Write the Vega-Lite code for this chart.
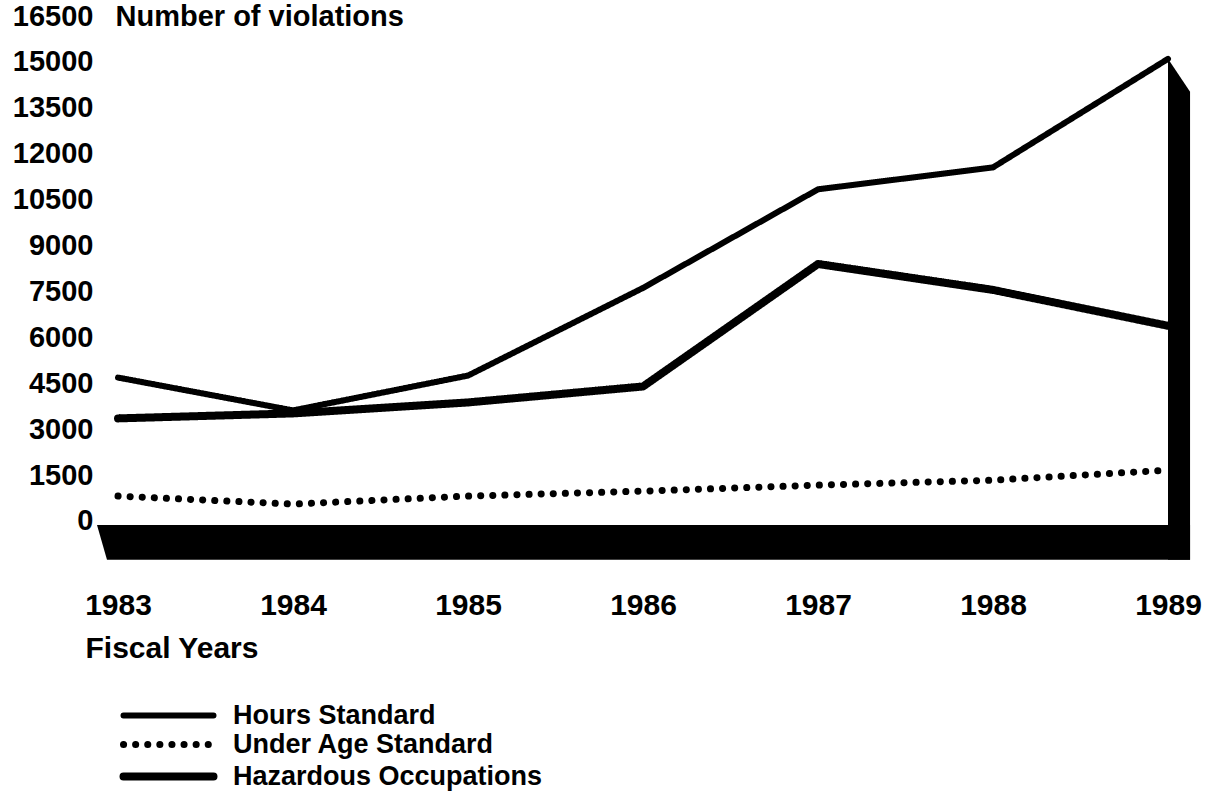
{
  "$schema": "https://vega.github.io/schema/vega-lite/v6.json",
  "width": 1111,
  "height": 798,
  "autosize": "none",
  "padding": {"left": 100, "top": 0, "right": 0, "bottom": 0},
  "background": "white",
  "config": {"view": {"stroke": null}, "font": "Liberation Sans"},
  "datasets": {
    "floor": [
      {"year": 1982.88, "value": -130, "value2": -130},
      {"year": 1982.937, "value": -130, "value2": -1269},
      {"year": 1989.126, "value": -130, "value2": -1269}
    ],
    "wall": [
      {"year": 1989, "value": 15100, "value2": -1269},
      {"year": 1989.126, "value": 14026, "value2": -1269}
    ],
    "violations": [
      {"year": 1983, "series": "Hours Standard", "value": 4686},
      {"year": 1984, "series": "Hours Standard", "value": 3612},
      {"year": 1985, "series": "Hours Standard", "value": 4751},
      {"year": 1986, "series": "Hours Standard", "value": 7615},
      {"year": 1987, "series": "Hours Standard", "value": 10837},
      {"year": 1988, "series": "Hours Standard", "value": 11553},
      {"year": 1989, "series": "Hours Standard", "value": 15100},
      {"year": 1983, "series": "Under Age Standard", "value": 814},
      {"year": 1984, "series": "Under Age Standard", "value": 553},
      {"year": 1985, "series": "Under Age Standard", "value": 814},
      {"year": 1986, "series": "Under Age Standard", "value": 976},
      {"year": 1987, "series": "Under Age Standard", "value": 1172},
      {"year": 1988, "series": "Under Age Standard", "value": 1334},
      {"year": 1989, "series": "Under Age Standard", "value": 1660},
      {"year": 1983, "series": "Hazardous Occupations", "value": 3352},
      {"year": 1984, "series": "Hazardous Occupations", "value": 3515},
      {"year": 1985, "series": "Hazardous Occupations", "value": 3873},
      {"year": 1986, "series": "Hazardous Occupations", "value": 4394},
      {"year": 1987, "series": "Hazardous Occupations", "value": 8397},
      {"year": 1988, "series": "Hazardous Occupations", "value": 7550},
      {"year": 1989, "series": "Hazardous Occupations", "value": 6378}
    ]
  },
  "layer": [
    {
      "data": {"name": "floor"},
      "mark": {"type": "area", "color": "black"},
      "encoding": {
        "x": {
          "field": "year", "type": "quantitative",
          "scale": {"domain": [1982.8971, 1989.2457], "nice": false, "zero": false},
          "axis": {
            "values": [1983, 1984, 1985, 1986, 1987, 1988, 1989],
            "format": "d", "orient": "bottom", "offset": -208,
            "domain": false, "ticks": false, "grid": false,
            "labelPadding": 0, "labelFlush": false, "labelOverlap": false,
            "labelFont": "Liberation Sans", "labelFontSize": 30, "labelFontWeight": "bold", "labelColor": "black",
            "title": "Fiscal Years", "titleX": -15, "titleY": 58, "titleAlign": "left", "titleBaseline": "middle",
            "titleFont": "Liberation Sans", "titleFontSize": 30, "titleFontWeight": "bold", "titleColor": "black"
          }
        },
        "y": {
          "field": "value", "type": "quantitative",
          "scale": {"domain": [-9051, 17023], "nice": false, "zero": false},
          "axis": {
            "values": [0, 1500, 3000, 4500, 6000, 7500, 9000, 10500, 12000, 13500, 15000, 16500],
            "format": "d", "domain": false, "ticks": false, "grid": false,
            "labelPadding": 7, "labelOverlap": false, "labelFlush": false,
            "labelFont": "Liberation Sans", "labelFontSize": 29, "labelFontWeight": "bold", "labelColor": "black",
            "title": "Number of violations", "titleAngle": 0, "titleX": 15, "titleY": 16, "titleAlign": "left", "titleBaseline": "middle",
            "titleFont": "Liberation Sans", "titleFontSize": 29, "titleFontWeight": "bold", "titleColor": "black"
          }
        },
        "y2": {"field": "value2"}
      }
    },
    {
      "data": {"name": "wall"},
      "mark": {"type": "area", "color": "black"},
      "encoding": {
        "x": {"field": "year", "type": "quantitative"},
        "y": {"field": "value", "type": "quantitative"},
        "y2": {"field": "value2"}
      }
    },
    {
      "data": {"name": "violations"},
      "mark": {"type": "line", "color": "black", "strokeCap": "round", "strokeJoin": "round"},
      "encoding": {
        "x": {"field": "year", "type": "quantitative"},
        "y": {"field": "value", "type": "quantitative"},
        "detail": {"field": "series"},
        "strokeDash": {
          "field": "series", "type": "nominal",
          "scale": {"domain": ["Hours Standard", "Under Age Standard", "Hazardous Occupations"], "range": [[1, 0], [0.1, 12], [1, 0]]},
          "legend": {
            "title": null, "orient": "none", "legendX": 55, "legendY": 702, "padding": 0,
            "symbolType": "M-5,0H5", "symbolSize": 324, "symbolStrokeColor": "black",
            "labelFont": "Liberation Sans", "labelFontSize": 27, "labelFontWeight": "bold", "labelColor": "black",
            "labelOffset": 51, "labelLimit": 0, "rowPadding": 1,
            "encode": {"symbols": {"update": {"strokeCap": {"value": "round"}}}}
          }
        },
        "strokeWidth": {
          "field": "series", "type": "nominal",
          "scale": {"domain": ["Hours Standard", "Under Age Standard", "Hazardous Occupations"], "range": [6, 8, 10]},
          "legend": {
            "title": null, "orient": "none", "legendX": 55, "legendY": 702, "padding": 0,
            "symbolType": "M-5,0H5", "symbolSize": 324, "symbolStrokeColor": "black",
            "labelFont": "Liberation Sans", "labelFontSize": 27, "labelFontWeight": "bold", "labelColor": "black",
            "labelOffset": 51, "labelLimit": 0, "rowPadding": 1,
            "encode": {"symbols": {"update": {"strokeCap": {"value": "round"}}}}
          }
        }
      }
    }
  ]
}
